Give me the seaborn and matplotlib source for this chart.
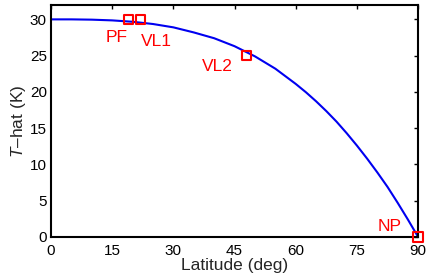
import matplotlib
matplotlib.use("Agg")
import matplotlib.pyplot as plt
import seaborn as sns
import pandas as pd

# curve
lat = [0, 5, 10, 15, 20, 25, 30, 35, 40, 45, 50, 55, 60, 62.5, 65, 67.5, 70,
       72.5, 75, 77.5, 80, 82.5, 85, 87.5, 90]
that = [30.0, 30.0, 29.96, 29.86, 29.67, 29.36, 28.9, 28.2, 27.4, 26.3, 24.9,
        23.2, 21.1, 19.95, 18.7, 17.35, 15.9, 14.3, 12.6, 10.8, 8.9, 6.9,
        4.7, 2.4, 0.0]

# sites
site_names = ['PF', 'VL1', 'VL2', 'NP']
site_lat = [19, 22, 48, 90]
site_t = [30, 30, 25, 0]
label_x = [16.1, 25.9, 40.9, 82.9]
label_y = [27.5, 27.0, 23.5, 1.4]

curve = pd.DataFrame({'lat': lat, 'T': that})
sites = pd.DataFrame({'lat': site_lat, 'T': site_t})

sns.set_style('white')
plt.rcParams['font.family'] = ['Liberation Sans', 'DejaVu Sans']
plt.rcParams['mathtext.fontset'] = 'custom'
plt.rcParams['mathtext.it'] = 'Liberation Sans:italic'

fig = plt.figure(figsize=(4.36, 2.78), dpi=100)
ax = fig.add_axes([0.117, 0.1475, 0.842, 0.835])

sns.lineplot(data=curve, x='lat', y='T', color='#0000f0', linewidth=1.5, ax=ax)
sns.scatterplot(data=sites, x='lat', y='T', marker='s', s=45, facecolor='none',
                edgecolor='red', linewidth=1.5, ax=ax, zorder=5, clip_on=False)

for n, x, y in zip(site_names, label_x, label_y):
    ax.text(x, y, n, color='red', fontsize=12.5, ha='center', va='center')

ax.set_xlim(0, 90)
ax.set_ylim(0, 32)
ax.set_xticks(range(0, 91, 15))
ax.set_yticks(range(0, 31, 5))
ax.tick_params(direction='in', length=3, width=1, labelsize=11, top=True, right=True,
               colors='black', pad=3)
ax.tick_params(axis='x', pad=5)
for s in ax.spines.values():
    s.set_linewidth(1.5)
    s.set_color('black')
ax.set_xlabel('Latitude (deg)', fontsize=12.5, labelpad=0)
ax.set_ylabel('$T$\u2013hat (K)', fontsize=12.5, labelpad=1)

fig.savefig('out.png', dpi=100)
